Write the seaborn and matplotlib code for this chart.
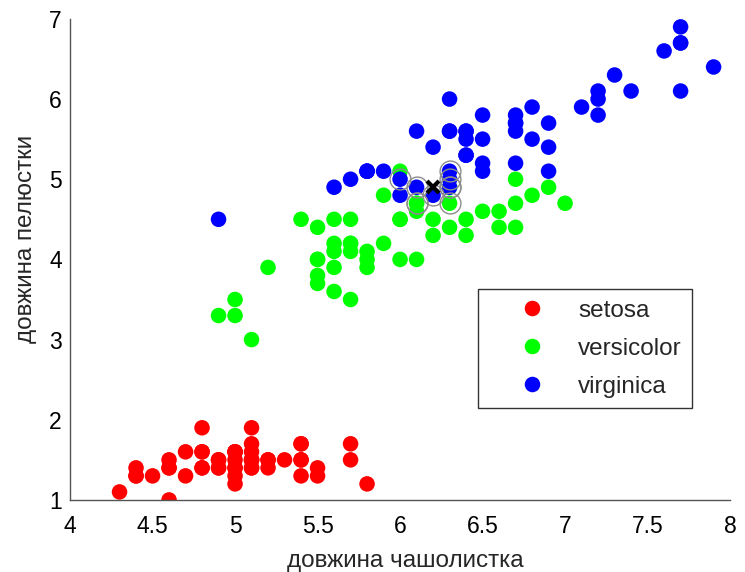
import numpy as np
import pandas as pd
import matplotlib
matplotlib.use("Agg")
import matplotlib.pyplot as plt
import seaborn as sns

# sepal length / petal length per species
setosa_sl = [5.1, 4.9, 4.7, 4.6, 5.0, 5.4, 4.6, 5.0, 4.4, 4.9, 5.4, 4.8, 4.8, 4.3, 5.8,
             5.7, 5.4, 5.1, 5.7, 5.1, 5.4, 5.1, 4.6, 5.1, 4.8, 5.0, 5.0, 5.2, 5.2, 4.7,
             4.8, 5.4, 5.2, 5.5, 4.9, 5.0, 5.5, 4.9, 4.4, 5.1, 5.0, 4.5, 4.4, 5.0, 5.1,
             4.8, 5.1, 4.6, 5.3, 5.0]
setosa_pl = [1.4, 1.4, 1.3, 1.5, 1.4, 1.7, 1.4, 1.5, 1.4, 1.5, 1.5, 1.6, 1.4, 1.1, 1.2,
             1.5, 1.3, 1.4, 1.7, 1.5, 1.7, 1.5, 1.0, 1.7, 1.9, 1.6, 1.6, 1.5, 1.4, 1.6,
             1.6, 1.5, 1.5, 1.4, 1.5, 1.2, 1.3, 1.4, 1.3, 1.5, 1.3, 1.3, 1.3, 1.6, 1.9,
             1.4, 1.6, 1.4, 1.5, 1.4]
versicolor_sl = [7.0, 6.4, 6.9, 5.5, 6.5, 5.7, 6.3, 4.9, 6.6, 5.2, 5.0, 5.9, 6.0, 6.1, 5.6,
                 6.7, 5.6, 5.8, 6.2, 5.6, 5.9, 6.1, 6.3, 6.1, 6.4, 6.6, 6.8, 6.7, 6.0, 5.7,
                 5.5, 5.5, 5.8, 6.0, 5.4, 6.0, 6.7, 6.3, 5.6, 5.5, 5.5, 6.1, 5.8, 5.0, 5.6,
                 5.7, 5.7, 6.2, 5.1, 5.7]
versicolor_pl = [4.7, 4.5, 4.9, 4.0, 4.6, 4.5, 4.7, 3.3, 4.6, 3.9, 3.5, 4.2, 4.0, 4.7, 3.6,
                 4.4, 4.5, 4.1, 4.5, 3.9, 4.8, 4.0, 4.9, 4.7, 4.3, 4.4, 4.8, 5.0, 4.5, 3.5,
                 3.8, 3.7, 3.9, 5.1, 4.5, 4.5, 4.7, 4.4, 4.1, 4.0, 4.4, 4.6, 4.0, 3.3, 4.2,
                 4.2, 4.2, 4.3, 3.0, 4.1]
virginica_sl = [6.3, 5.8, 7.1, 6.3, 6.5, 7.6, 4.9, 7.3, 6.7, 7.2, 6.5, 6.4, 6.8, 5.7, 5.8,
                6.4, 6.5, 7.7, 7.7, 6.0, 6.9, 5.6, 7.7, 6.3, 6.7, 7.2, 6.2, 6.1, 6.4, 7.2,
                7.4, 7.9, 6.4, 6.3, 6.1, 7.7, 6.3, 6.4, 6.0, 6.9, 6.7, 6.9, 5.8, 6.8, 6.7,
                6.7, 6.3, 6.5, 6.2, 5.9]
virginica_pl = [6.0, 5.1, 5.9, 5.6, 5.8, 6.6, 4.5, 6.3, 5.8, 6.1, 5.1, 5.3, 5.5, 5.0, 5.1,
                5.3, 5.5, 6.7, 6.9, 5.0, 5.7, 4.9, 6.7, 4.9, 5.7, 6.0, 4.8, 4.9, 5.6, 5.8,
                6.1, 6.4, 5.6, 5.1, 5.6, 6.1, 5.6, 5.5, 4.8, 5.4, 5.6, 5.1, 5.1, 5.9, 5.7,
                5.2, 5.0, 5.2, 5.4, 5.1]

species = ["setosa", "versicolor", "virginica"]
colors = {"setosa": "#FF0000", "versicolor": "#00FF00", "virginica": "#0000FF"}

# query point and its nearest neighbours
new_point = (6.2, 4.9)
nb_sl = [6.2, 6.1, 6.3, 6.3, 6.3, 6.1, 6.3, 6.0, 6.1, 6.3]
nb_pl = [4.8, 4.9, 4.9, 5.0, 5.1, 4.7, 4.7, 5.0, 4.7, 4.9]

df = pd.DataFrame({
    "sl": setosa_sl + versicolor_sl + virginica_sl,
    "pl": setosa_pl + versicolor_pl + virginica_pl,
    "species": ["setosa"] * 50 + ["versicolor"] * 50 + ["virginica"] * 50,
})

sns.set_style("white")
plt.rcParams["font.family"] = ["Liberation Sans", "DejaVu Sans"]

fig = plt.figure(figsize=(7.45, 5.72), dpi=100)
ax = fig.add_axes([0.094, 0.126, 0.886, 0.841])

sns.scatterplot(data=df, x="sl", y="pl", hue="species", hue_order=species,
                palette=colors, s=125, linewidth=0, ax=ax)

ax.plot(nb_sl, nb_pl, linestyle="none", marker="o", markersize=15,
        markerfacecolor="none", markeredgecolor="#8c8c8c", markeredgewidth=1.0)
ax.plot(*new_point, marker="x", color="k", markersize=9, markeredgewidth=3)

ax.set_xlim(4, 8)
ax.set_ylim(1, 7)
ax.set_xticks(np.arange(4, 8.01, 0.5))
ax.set_xticklabels(["4", "4.5", "5", "5.5", "6", "6.5", "7", "7.5", "8"])
ax.set_yticks(range(1, 8))
ax.tick_params(direction="in", length=4, width=1, labelsize=16.5, colors="#333333",
               labelcolor="black")
ax.tick_params(axis="x", pad=11)
ax.tick_params(axis="y", pad=6)
for side in ["top", "right"]:
    ax.spines[side].set_visible(False)
for side in ["left", "bottom"]:
    ax.spines[side].set_color("#555555")
    ax.spines[side].set_linewidth(1)

ax.set_xlabel("довжина чашолистка", fontsize=17.5)
ax.set_ylabel("довжина пелюстки", fontsize=17.5)
ax.xaxis.set_label_coords(0.5076, -0.105)
ax.yaxis.set_label_coords(-0.05, 0.543)

leg = ax.legend(loc="upper left", bbox_to_anchor=(0.6416, 0.4948),
                bbox_transform=fig.transFigure, borderaxespad=0, fontsize=17.5,
                frameon=True, fancybox=False, edgecolor="black", markerscale=1.0,
                handletextpad=0.12, borderpad=0.45, labelspacing=0.65, handlelength=3.54)
leg.get_frame().set_linewidth(1)

fig.savefig("out.png", dpi=100)
